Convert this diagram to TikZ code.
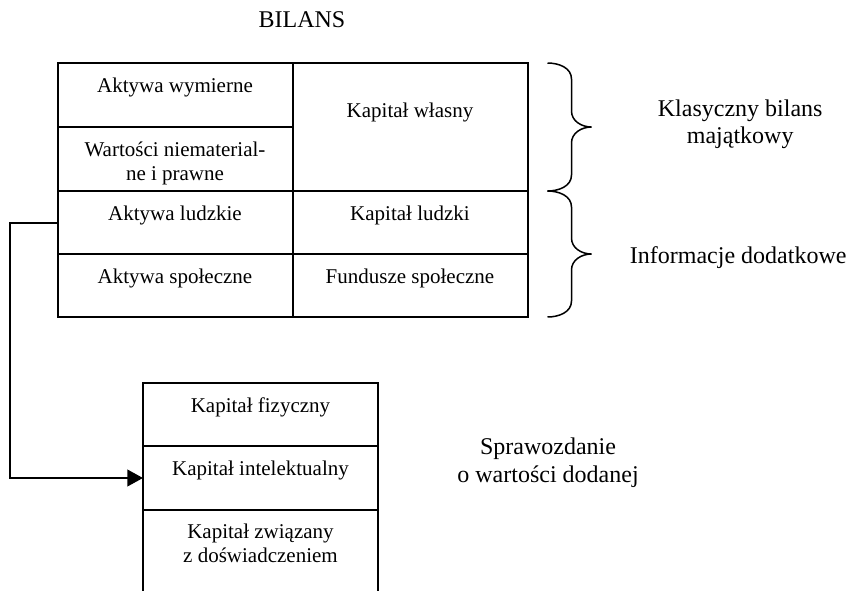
\documentclass[tikz,border=0pt]{standalone}
\usepackage{fontspec}
\setmainfont{Liberation Serif}
\usetikzlibrary{arrows.meta, positioning}

\begin{document}
\begin{tikzpicture}[cell/.style={
        rectangle,
        draw=black,
        line width=1pt,
        minimum width=117.5pt,
        inner sep=0pt,
        outer sep=0pt
    }, opencell/.style={
        rectangle,
        minimum width=117.5pt,
        inner sep=0pt,
        outer sep=0pt
    }, txt/.style={
        font=\fontsize{10.5}{12}\selectfont,
        align=center,
        inner sep=0pt
    }, note/.style={
        font=\fontsize{12}{13.8}\selectfont,
        align=center,
        inner sep=0pt
    }, sideline/.style={
        line width=1pt
    }, curly/.style={
        line width=.75pt
    }, arrow/.style={
        line width=1pt, ->, >={Triangle[length=7.8pt,width=8.3pt]}
    }]
    \useasboundingbox (0,0) rectangle (424pt,-295.5pt);

    % bilans
    \node (aw) [cell, minimum height=32pt, anchor=north west] at (28.75pt,-31.5pt) {};
    \node (wn) [cell, minimum height=32pt, below=0pt of aw] {};
    \node (al) [cell, minimum height=31.5pt, below=0pt of wn] {};
    \node (as) [cell, minimum height=31.5pt, below=0pt of al] {};
    \node (kw) [cell, minimum height=64pt, anchor=north west] at (aw.north east) {};
    \node (kl) [cell, minimum height=31.5pt, right=0pt of al] {};
    \node (fs) [cell, minimum height=31.5pt, right=0pt of as] {};
    \node (awt) [txt, below=7.4pt of aw.north] {Aktywa wymierne};
    \node (wnt) [txt, below=7.4pt of wn.north] {Wartości niematerial-\\ne i prawne};
    \node (alt) [txt, below=7.4pt of al.north] {Aktywa ludzkie};
    \node (ast) [txt, below=7.4pt of as.north] {Aktywa społeczne};
    \node (kwt) [txt, below=19.6pt of kw.north] {Kapitał własny};
    \node (klt) [txt, below=7.4pt of kl.north] {Kapitał ludzki};
    \node (fst) [txt, below=7.4pt of fs.north] {Fundusze społeczne};
    \node (bilans) [note, above=17.35pt of aw.north east, xshift=4.75pt] {BILANS};

    % sprawozdanie
    \node (kf) [cell, minimum height=31.5pt, below right=33pt and 42.75pt of as.south west] {};
    \node (ki) [cell, minimum height=32pt, below=0pt of kf] {};
    \node (kz) [opencell, minimum height=40.5pt, below=0pt of ki] {};
    \draw [sideline] (kz.north west) -- (kz.south west) (kz.north east) -- (kz.south east);
    \node (kft) [txt, below=7.2pt of kf.north] {Kapitał fizyczny};
    \node (kit) [txt, below=7.4pt of ki.north] {Kapitał intelektualny};
    \node (kzt) [txt, below=6.9pt of kz.north] {Kapitał związany\\z doświadczeniem};

    % klamry
    \draw [curly] ([xshift=10pt]kw.north east) to[out=0,in=90] ++(12pt,-8pt) -- ++(0,-16pt)
        to[out=-90,in=180] ++(10pt,-8pt) coordinate (t1)
        to[out=180,in=90] ++(-10pt,-8pt) -- ++(0,-16pt) to[out=-90,in=0] ++(-12pt,-8pt);
    \draw [curly] ([xshift=10pt]kl.north east) to[out=0,in=90] ++(12pt,-8pt) -- ++(0,-15.5pt)
        to[out=-90,in=180] ++(10pt,-8pt) coordinate (t2)
        to[out=180,in=90] ++(-10pt,-8pt) -- ++(0,-15.5pt) to[out=-90,in=0] ++(-12pt,-8pt);
    \node (klas) [note, right=33pt of t1, yshift=1.3pt] {Klasyczny bilans\\majątkowy};
    \node (info) [note, right=19pt of t2, yshift=-2pt] {Informacje dodatkowe};
    \node (spr) [note, right=39.5pt of ki, yshift=7.75pt] {Sprawozdanie\\o wartości dodanej};

    \draw [arrow] (al.west) -- ++(-23.75pt,0) |- (ki.west);

\end{tikzpicture}
\end{document}
